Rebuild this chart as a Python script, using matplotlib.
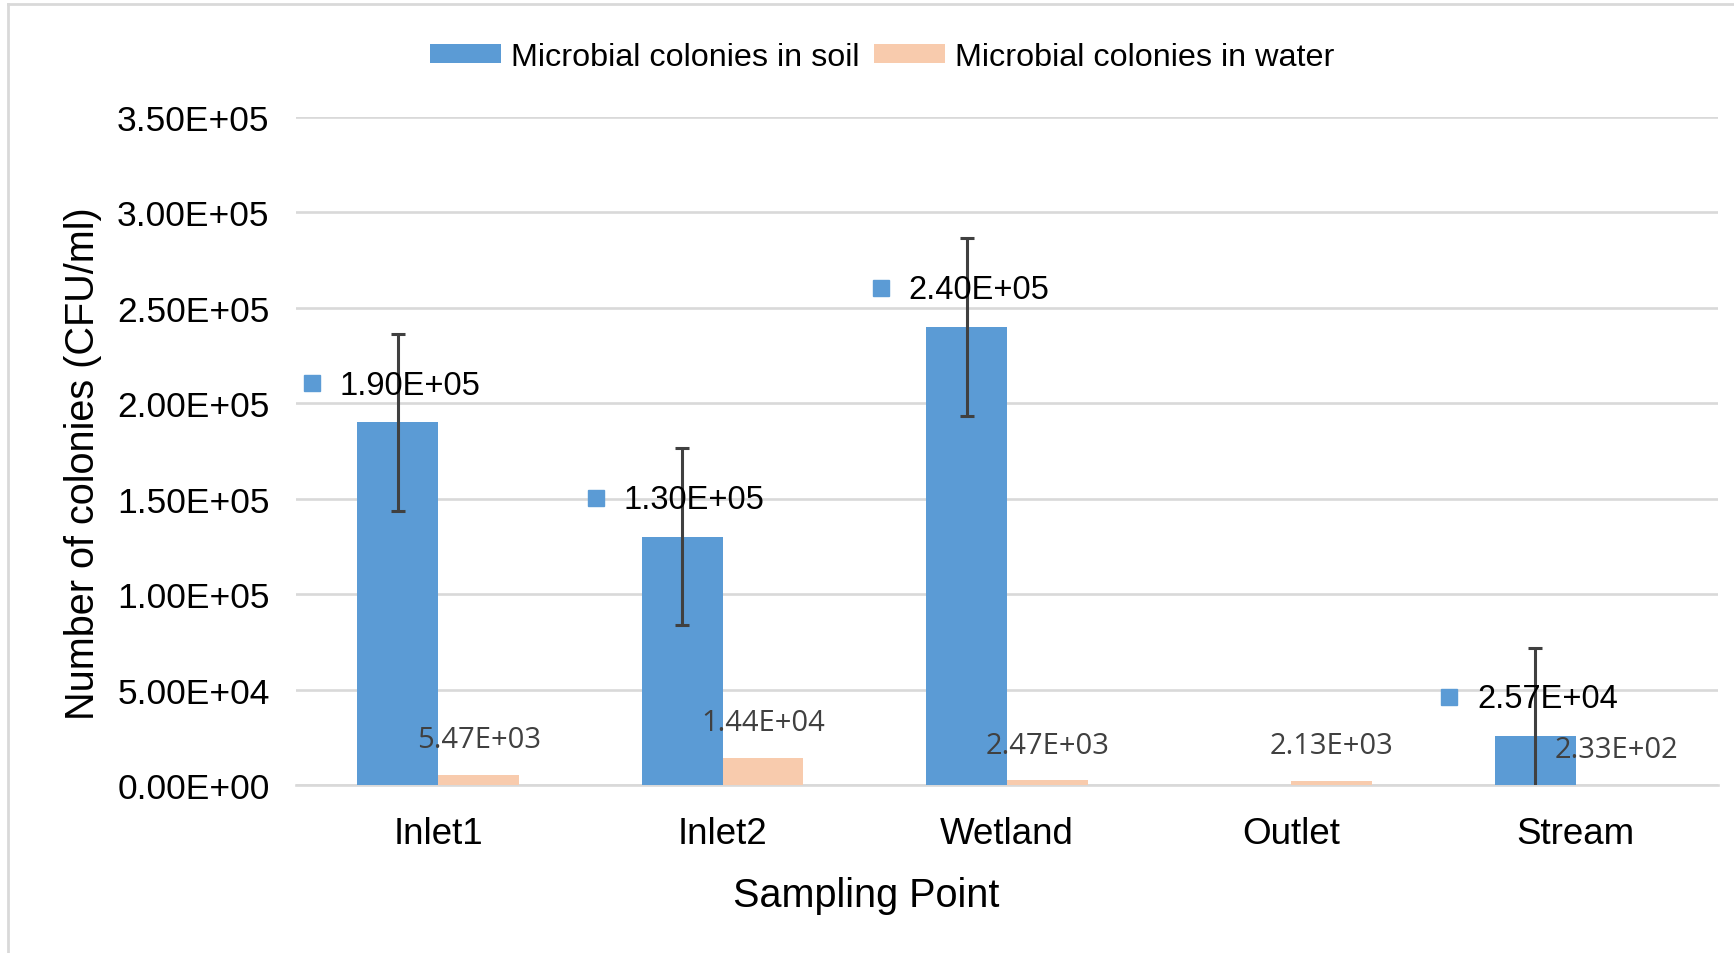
import matplotlib
matplotlib.use("Agg")
import matplotlib.pyplot as plt
import matplotlib.transforms as mtransforms
from matplotlib.lines import Line2D
import numpy as np

plt.rcParams['font.family'] = ['Liberation Sans', 'DejaVu Sans']

categories = ["Inlet1", "Inlet2", "Wetland", "Outlet", "Stream"]
soil = [1.90e5, 1.30e5, 2.40e5, 0.0, 2.57e4]
soil_err = [4.64e4, 4.64e4, 4.64e4, 0.0, 4.60e4]
water = [5.47e3, 1.44e4, 2.47e3, 2.13e3, 2.33e2]
soil_labels = ["1.90E+05", "1.30E+05", "2.40E+05", None, "2.57E+04"]
water_labels = ["5.47E+03", "1.44E+04", "2.47E+03", "2.13E+03", "2.33E+02"]
yticks = [0, 5e4, 1e5, 1.5e5, 2e5, 2.5e5, 3e5, 3.5e5]
ytick_labels = ["0.00E+00", "5.00E+04", "1.00E+05", "1.50E+05", "2.00E+05",
                "2.50E+05", "3.00E+05", "3.50E+05"]

BLUE = "#5b9bd5"
ORANGE = "#f8cbad"
GRID = "#d9d9d9"

W, H = 1734, 954
fig = plt.figure(figsize=(W / 100, H / 100), dpi=100)
ax = fig.add_axes([296 / W, 1 - 786 / H, (1718 - 296) / W, (786 - 118) / H])

x = np.arange(len(categories))
bw = 0.284
ax.bar(x - bw / 2, soil, width=bw, color=BLUE, zorder=2, label="Microbial colonies in soil")
ax.bar(x + bw / 2, water, width=bw, color=ORANGE, zorder=2, label="Microbial colonies in water")

err_x = [xi - bw / 2 for xi, e in zip(x, soil_err) if e > 0]
err_y = [v for v, e in zip(soil, soil_err) if e > 0]
err_e = [e for e in soil_err if e > 0]
ax.errorbar(err_x, err_y, yerr=err_e, fmt="none", ecolor="#404040",
            elinewidth=2.2, capsize=5, capthick=2.2, zorder=4, clip_on=True)

ax.set_xlim(-0.5, len(categories) - 0.5)
ax.set_ylim(0, 3.5e5)
ax.set_yticks(yticks)
ax.set_yticklabels(ytick_labels)
ax.set_xticks(x)
ax.set_xticklabels(categories)
ax.tick_params(axis="both", length=0, colors="black")
ax.tick_params(axis="y", pad=19, labelsize=25.5)
ax.tick_params(axis="x", pad=22, labelsize=26.5)
ax.grid(axis="y", color=GRID, linewidth=1.9, zorder=0)
ax.set_axisbelow(True)
for s in ["top", "right", "left"]:
    ax.spines[s].set_visible(False)
ax.spines["bottom"].set_color(GRID)
ax.spines["bottom"].set_linewidth(1.9)
ax.spines["bottom"].set_zorder(1)

# data labels: soil
mk_tr = mtransforms.offset_copy(ax.transData, fig=fig, x=-86 * 0.72, y=39 * 0.72, units="points")
mx = [xi - bw / 2 for xi, l in zip(x, soil_labels) if l]
my = [v for v, l in zip(soil, soil_labels) if l]
ax.plot(mx, my, linestyle="none", marker="s", markersize=12, color=BLUE,
        transform=mk_tr, clip_on=False, zorder=5)
for xi, v, l in zip(x, soil, soil_labels):
    if l:
        ax.annotate(l, (xi - bw / 2, v), xytext=(12 * 0.72, 37 * 0.72),
                    textcoords="offset points", ha="center", va="center",
                    fontsize=23.5, color="black", zorder=6)
for xi, v, l in zip(x, water, water_labels):
    ax.annotate(l, (xi + bw / 2, v), xytext=(0, 35 * 0.72),
                textcoords="offset points", ha="center", va="center",
                fontsize=21, color="#404040", family=["Open Sans", "DejaVu Sans"], zorder=6)

fig.text(866 / W, 1 - 896 / H, "Sampling Point", ha="center", va="center", fontsize=28.5)
fig.text(83 / W, 1 - 464 / H, "Number of colonies (CFU/ml)", rotation=90,
         ha="center", va="center", fontsize=28.5)

fig.legend(loc="center", bbox_to_anchor=(882 / W, 1 - 58 / H), ncol=2, frameon=False,
           fontsize=23.3, handlelength=2.2, handleheight=0.55, handletextpad=0.3,
           columnspacing=0.45)

# outer chart frame
fig.add_artist(Line2D([8 / W, 8 / W], [0, 1 - 5 / H], color=GRID, linewidth=2,
                      transform=fig.transFigure))
fig.add_artist(Line2D([8 / W, 1], [1 - 5 / H, 1 - 5 / H], color=GRID, linewidth=2,
                      transform=fig.transFigure))

fig.savefig("out.png", dpi=100)
